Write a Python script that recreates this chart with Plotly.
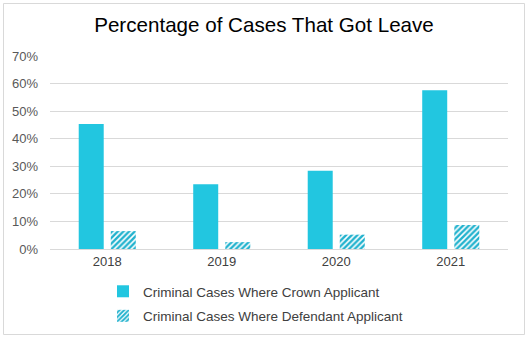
import plotly.graph_objects as go

years = ["2018", "2019", "2020", "2021"]
crown_pct = [45.3, 23.5, 28.4, 57.6]
defendant_pct = [6.5, 2.5, 5.2, 8.7]
y_ticks = [0, 10, 20, 30, 40, 50, 60, 70]
y_tick_labels = [f"{v}%" for v in y_ticks]

CYAN = "#22C6E0"
W, H = 528, 339
ML, MR, MT, MB = 50, 20, 56, 90

fig = go.Figure()
fig.add_trace(go.Bar(
    x=years, y=crown_pct, name="Criminal Cases Where Crown Applicant",
    marker=dict(color=CYAN, line=dict(width=0)), legendgroup="a",
))
fig.add_trace(go.Bar(
    x=years, y=defendant_pct, name="Criminal Cases Where Defendant Applicant",
    marker=dict(color="white", line=dict(width=0),
                pattern=dict(shape="/", fgcolor="#22B2CE", bgcolor="white",
                             fgopacity=1, size=4, solidity=0.6)),
    legendgroup="b",
))

pw = W - ML - MR
ph = H - MT - MB
# outer frame around the whole chart
x0 = (3.5 - ML) / pw
x1 = (524.5 - ML) / pw
y1 = 1 + (MT - 3.5) / ph
y0 = -(H - 4.5 - (H - MB)) / ph
fig.add_shape(type="rect", xref="paper", yref="paper",
              x0=x0, x1=x1, y0=y0, y1=y1,
              line=dict(color="#D9D9D9", width=1), fillcolor="rgba(0,0,0,0)",
              layer="below")

fig.update_layout(
    width=W, height=H,
    margin=dict(l=ML, r=MR, t=MT, b=MB, autoexpand=False),
    paper_bgcolor="white", plot_bgcolor="white",
    font=dict(family="Liberation Sans, Arial", color="#595959", size=13),
    title=dict(text="Percentage of Cases That Got Leave",
               font=dict(size=20.6, color="#000000"),
               x=0.5, xanchor="center", y=1 - 25 / H, yanchor="middle"),
    barmode="group", bargap=0.44, bargroupgap=0.22,
    showlegend=True,
    legend=dict(orientation="v", x=(103 - ML) / pw, xanchor="left",
                y=-(276 - (H - MB)) / ph, yanchor="top", tracegroupgap=4,
                itemwidth=30,
                font=dict(size=13.5, color="#404040"),
                bgcolor="rgba(0,0,0,0)"),
    xaxis=dict(showgrid=False, showline=True, linecolor="#D9D9D9",
               ticks="", tickfont=dict(size=13, color="#404040")),
    yaxis=dict(range=[0, 70], tickvals=y_ticks, ticktext=y_tick_labels,
               showgrid=True, gridcolor="#D9D9D9", zeroline=False,
               showline=False, ticks="", ticklabelstandoff=11,
               tickfont=dict(size=13, color="#595959")),
)

fig.write_html("out.html")
